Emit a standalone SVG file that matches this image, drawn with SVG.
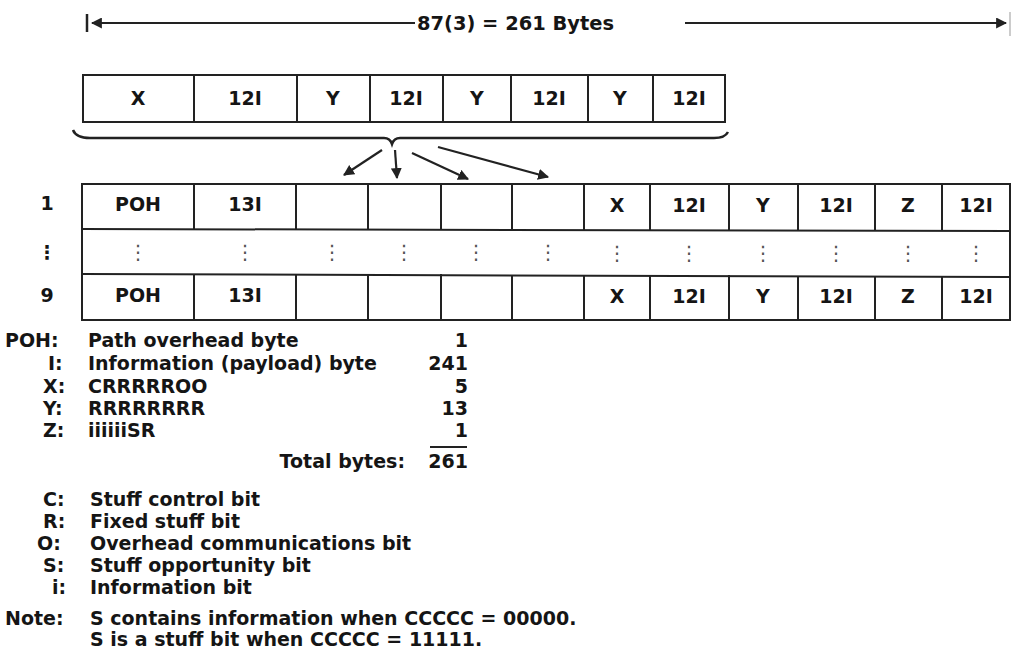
<svg xmlns="http://www.w3.org/2000/svg" width="1012" height="657" viewBox="0 0 1012 657">
<style>
text{font-family:"DejaVu Sans","Liberation Sans",sans-serif;font-weight:bold;fill:#151515;}
.c{font-size:19px;text-anchor:middle;}
.l{font-size:19px;}
.r{font-size:19px;text-anchor:end;}
.cell{fill:#fff;stroke:#222;stroke-width:2;}
.dots{font-size:20px;text-anchor:middle;fill:#555;font-weight:normal;}
.conn{stroke:#222;stroke-width:2.2;fill:none;}
</style>
<defs>
<marker id="ah" viewBox="0 0 10 10" refX="9" refY="5" markerWidth="5" markerHeight="5" orient="auto" markerUnits="strokeWidth">
<path d="M0,0 L10,5 L0,10 z" fill="#222"/>
</marker>
</defs>
<rect width="1012" height="657" fill="#fff"/>

<g id="dimension">
<line x1="87" y1="14" x2="87" y2="32" stroke="#222" stroke-width="2.5"/>
<line x1="415" y1="23" x2="92" y2="23" class="conn" stroke-width="2" marker-end="url(#ah)"/>
<text x="417" y="30" class="l" textLength="197" lengthAdjust="spacingAndGlyphs">87(3) = 261 Bytes</text>
<line x1="685" y1="23" x2="1006" y2="23" class="conn" stroke-width="2" marker-end="url(#ah)"/>
<line x1="1010" y1="12" x2="1010" y2="36" stroke="#bbb" stroke-width="1.5"/>
</g>

<g id="top-row">
<rect x="83" y="75" width="642" height="47" class="cell"/>
<g stroke="#222" stroke-width="2">
<line x1="194" y1="75" x2="194" y2="122"/><line x1="297" y1="75" x2="297" y2="122"/>
<line x1="370" y1="75" x2="370" y2="122"/><line x1="443" y1="75" x2="443" y2="122"/>
<line x1="511" y1="75" x2="511" y2="122"/><line x1="588" y1="75" x2="588" y2="122"/>
<line x1="653" y1="75" x2="653" y2="122"/>
</g>
<text x="138" y="105" class="c">X</text>
<text x="245" y="105" class="c">12I</text>
<text x="333" y="105" class="c">Y</text>
<text x="406" y="105" class="c">12I</text>
<text x="477" y="105" class="c">Y</text>
<text x="549" y="105" class="c">12I</text>
<text x="620" y="105" class="c">Y</text>
<text x="689" y="105" class="c">12I</text>
</g>

<g id="brace">
<path d="M73,130 Q76,138 90,138 L384,138 Q390,138 392,144 Q394,138 400,138 L714,138 Q725,138 728,132" fill="none" stroke="#222" stroke-width="2.5"/>
</g>

<g id="connectors">
<line x1="382" y1="150" x2="344" y2="175" class="conn" marker-end="url(#ah)"/>
<line x1="395" y1="150" x2="397" y2="178" class="conn" marker-end="url(#ah)"/>
<line x1="412" y1="153" x2="468" y2="179" class="conn" marker-end="url(#ah)"/>
<line x1="438" y1="147" x2="548" y2="177" class="conn" stroke="#444" stroke-width="1.8" marker-end="url(#ah)"/>
</g>

<g id="row-labels">
<text x="47" y="210" class="c">1</text>
<text x="47" y="259" class="c" font-size="22">⋮</text>
<text x="47" y="302" class="c">9</text>
</g>

<g id="grid">
<rect x="82" y="184" width="928" height="136" class="cell"/>
<line x1="82" y1="229" x2="1010" y2="231" stroke="#222" stroke-width="2"/>
<line x1="82" y1="274" x2="1010" y2="277" stroke="#222" stroke-width="2"/>
<g stroke="#222" stroke-width="2">
<line x1="194" y1="184" x2="194" y2="229"/><line x1="194" y1="274" x2="194" y2="320"/>
<line x1="296" y1="184" x2="296" y2="229"/><line x1="296" y1="274" x2="296" y2="320"/>
<line x1="368" y1="184" x2="368" y2="229"/><line x1="368" y1="274" x2="368" y2="320"/>
<line x1="441" y1="184" x2="441" y2="229"/><line x1="441" y1="274" x2="441" y2="320"/>
<line x1="512" y1="184" x2="512" y2="230"/><line x1="512" y1="275" x2="512" y2="320"/>
<line x1="584" y1="184" x2="584" y2="230"/><line x1="584" y1="275" x2="584" y2="320"/>
<line x1="650" y1="184" x2="650" y2="230"/><line x1="650" y1="275" x2="650" y2="320"/>
<line x1="729" y1="184" x2="729" y2="230"/><line x1="729" y1="275" x2="729" y2="320"/>
<line x1="798" y1="184" x2="798" y2="230"/><line x1="798" y1="276" x2="798" y2="320"/>
<line x1="875" y1="184" x2="875" y2="231"/><line x1="875" y1="276" x2="875" y2="320"/>
<line x1="942" y1="184" x2="942" y2="231"/><line x1="942" y1="276" x2="942" y2="320"/>
</g>
<g id="row-1">
<text x="138" y="211" class="c">POH</text>
<text x="245" y="211" class="c">13I</text>
<text x="617" y="212" class="c">X</text>
<text x="689" y="212" class="c">12I</text>
<text x="763" y="212" class="c">Y</text>
<text x="836" y="212" class="c">12I</text>
<text x="908" y="212" class="c">Z</text>
<text x="976" y="212" class="c">12I</text>
</g>
<g id="row-dots">
<text x="138" y="259" class="dots">⋮</text>
<text x="245" y="259" class="dots">⋮</text>
<text x="332" y="259" class="dots">⋮</text>
<text x="404" y="259" class="dots">⋮</text>
<text x="476" y="259" class="dots">⋮</text>
<text x="548" y="259" class="dots">⋮</text>
<text x="617" y="260" class="dots">⋮</text>
<text x="689" y="260" class="dots">⋮</text>
<text x="763" y="260" class="dots">⋮</text>
<text x="836" y="260" class="dots">⋮</text>
<text x="908" y="260" class="dots">⋮</text>
<text x="976" y="260" class="dots">⋮</text>
</g>
<g id="row-9">
<text x="138" y="302" class="c">POH</text>
<text x="245" y="302" class="c">13I</text>
<text x="617" y="303" class="c">X</text>
<text x="689" y="303" class="c">12I</text>
<text x="763" y="303" class="c">Y</text>
<text x="836" y="303" class="c">12I</text>
<text x="908" y="303" class="c">Z</text>
<text x="976" y="303" class="c">12I</text>
</g>
</g>

<g id="legend-bytes">
<text x="5" y="347" class="l">POH:</text><text x="88" y="347" class="l">Path overhead byte</text><text x="468" y="347" class="r">1</text>
<text x="48" y="370" class="l">I:</text><text x="88" y="370" class="l">Information (payload) byte</text><text x="468" y="370" class="r">241</text>
<text x="43" y="393" class="l">X:</text><text x="88" y="393" class="l">CRRRRROO</text><text x="468" y="393" class="r">5</text>
<text x="43" y="415" class="l">Y:</text><text x="88" y="415" class="l">RRRRRRRR</text><text x="468" y="415" class="r">13</text>
<text x="43" y="437" class="l">Z:</text><text x="88" y="437" class="l">iiiiiiSR</text><text x="468" y="437" class="r">1</text>
<line x1="430" y1="447" x2="467" y2="447" stroke="#222" stroke-width="2"/>
<text x="405" y="468" class="r">Total bytes:</text><text x="468" y="468" class="r">261</text>
</g>

<g id="legend-bits">
<text x="43" y="506" class="l">C:</text><text x="90" y="506" class="l">Stuff control bit</text>
<text x="43" y="528" class="l">R:</text><text x="90" y="528" class="l">Fixed stuff bit</text>
<text x="37" y="550" class="l">O:</text><text x="90" y="550" class="l">Overhead communications bit</text>
<text x="43" y="572" class="l">S:</text><text x="90" y="572" class="l">Stuff opportunity bit</text>
<text x="52" y="594" class="l">i:</text><text x="90" y="594" class="l">Information bit</text>
</g>

<g id="note">
<text x="5" y="625" class="l">Note:</text>
<text x="90" y="625" class="l">S contains information when CCCCC = 00000.</text>
<text x="90" y="646" class="l">S is a stuff bit when CCCCC = 11111.</text>
</g>
</svg>
